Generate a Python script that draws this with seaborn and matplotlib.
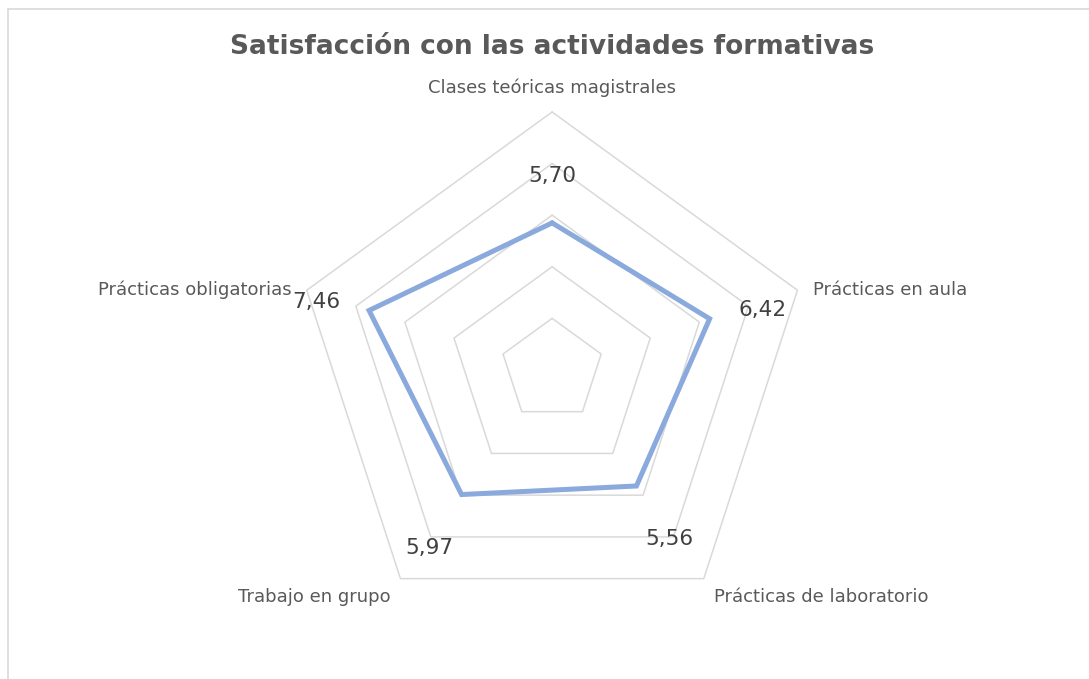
import numpy as np
import pandas as pd
import seaborn as sns
import matplotlib.pyplot as plt
from matplotlib.lines import Line2D

categories = [
    "Clases teóricas magistrales",
    "Prácticas en aula",
    "Prácticas de laboratorio",
    "Trabajo en grupo",
    "Prácticas obligatorias",
]
values = [5.70, 6.42, 5.56, 5.97, 7.46]
value_labels = ["5,70", "6,42", "5,56", "5,97", "7,46"]
ring_levels = [2, 4, 6, 8, 10]
title = "Satisfacción con las actividades formativas"

if __name__ == "__main__":
    sns.set_theme(style="white")
    plt.rcParams["font.family"] = ["DejaVu Sans"]

    text_color = "#595959"
    grid_color = "#d9d9d9"
    line_color = "#8aa9dc"

    # angles clockwise from the top
    n = len(categories)
    angles = np.pi / 2 - np.arange(n) * 2 * np.pi / n

    fig = plt.figure(figsize=(10.89, 6.79), dpi=100)
    ax = fig.add_axes([0, 0, 1, 1])
    ax.set_xlim(-21.40, 20.81)
    ax.set_ylim(-11.98, 14.34)
    ax.axis("off")

    # pentagon grid
    closed = np.append(angles, angles[0])
    for lvl in ring_levels:
        ax.plot(lvl * np.cos(closed), lvl * np.sin(closed),
                color=grid_color, lw=1.1, zorder=1)

    # data polygon
    df = pd.DataFrame({
        "x": np.append(np.array(values) * np.cos(angles), values[0] * np.cos(angles[0])),
        "y": np.append(np.array(values) * np.sin(angles), values[0] * np.sin(angles[0])),
    })
    sns.lineplot(data=df, x="x", y="y", sort=False, estimator=None,
                 color=line_color, lw=3.6, ax=ax, zorder=3)
    ax.lines[-1].set_solid_joinstyle("miter")

    # data labels
    for a, v, lab in zip(angles, values, value_labels):
        r = v + 2.15
        ax.text(r * np.cos(a), r * np.sin(a) - 0.32, lab, ha="center", va="center",
                fontsize=15.5, color="#404040", zorder=4)

    # category labels
    outer = ring_levels[-1]
    for a, cat in zip(angles, categories):
        cx, cy = np.cos(a), np.sin(a)
        if abs(cx) < 0.01:
            ax.text(0, outer + 0.95, cat, ha="center", va="center",
                    fontsize=13, color=text_color)
        elif cy > 0:
            ha = "left" if cx > 0 else "right"
            ax.text(outer * cx + (0.6 if cx > 0 else -0.6), outer * cy,
                    cat, ha=ha, va="center", fontsize=13, color=text_color)
        else:
            ha = "left" if cx > 0 else "right"
            ax.text(outer * cx + (0.4 if cx > 0 else -0.4), outer * cy - 0.7,
                    cat, ha=ha, va="center", fontsize=13, color=text_color)

    fig.text(552 / 1089, 1 - 47 / 679, title, ha="center", va="center",
             fontsize=19, fontweight="bold", color=text_color)

    # chart area border (left and top edges)
    fig.add_artist(Line2D([8 / 1089, 8 / 1089], [0, 1 - 9 / 679],
                          transform=fig.transFigure, color=grid_color, lw=1.2))
    fig.add_artist(Line2D([8 / 1089, 1], [1 - 9 / 679, 1 - 9 / 679],
                          transform=fig.transFigure, color=grid_color, lw=1.2))

    plt.savefig("out.png", dpi=100)
